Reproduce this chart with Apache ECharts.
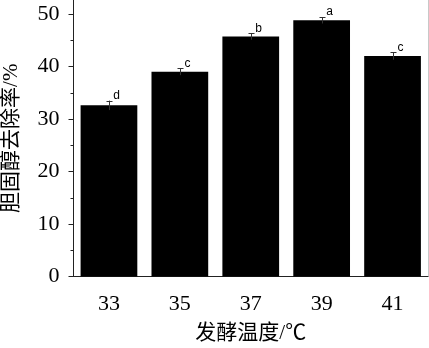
<!DOCTYPE html>
<html>
<head>
<meta charset="utf-8">
<script src="https://cdn.jsdelivr.net/npm/echarts@6/dist/echarts.min.js"></script>
<style>html,body{margin:0;padding:0;background:#fff;}#c{width:429px;height:348px;}</style>
</head>
<body>
<div id="c"></div>
<script>
const categories = ['33', '35', '37', '39', '41'];
const values = [32.6, 39.0, 45.7, 48.8, 42.0];
const errors = [0.9, 0.65, 0.6, 0.6, 0.7];
const letters = ['d', 'c', 'b', 'a', 'c'];
const yTicks = [0, 10, 20, 30, 40, 50];
const yMinorTicks = [5, 15, 25, 35, 45];
const yMax = 52.67;

const chart = echarts.init(document.getElementById('c'), null, {renderer: 'canvas'});
const serif = 'Liberation Serif';
const cjk = 'Liberation Serif, Noto Sans CJK SC';
const axisColor = '#222';

const errData = values.map((v, i) => [i, v, errors[i], letters[i]]);

chart.setOption({
  animation: false,
  backgroundColor: '#fff',
  grid: {left: 73.5, right: 1, top: 0, bottom: 71.5, containLabel: false, outerBoundsMode: 'none'},
  xAxis: [{
    type: 'category', data: categories, boundaryGap: true,
    axisLine: {lineStyle: {color: axisColor, width: 1}},
    axisTick: {alignWithLabel: true, length: 6, inside: false, lineStyle: {color: axisColor}},
    axisLabel: {fontFamily: serif, fontSize: 22, color: '#000', margin: 17},
    name: '发酵温度/℃', nameLocation: 'middle', nameGap: 46,
    nameTextStyle: {fontFamily: cjk, fontSize: 21, color: '#000'}
  }, {
    type: 'category', data: categories, boundaryGap: true, position: 'bottom',
    axisLine: {show: false},
    axisTick: {length: 3, lineStyle: {color: axisColor}},
    axisLabel: {show: false}
  }],
  yAxis: [{
    type: 'value', min: 0, max: yMax, interval: 10,
    axisLine: {show: true, lineStyle: {color: axisColor, width: 1}},
    axisTick: {show: true, length: 5, customValues: yTicks, lineStyle: {color: axisColor}},
    axisLabel: {customValues: yTicks, fontFamily: serif, fontSize: 22, color: '#000', margin: 14},
    splitLine: {show: false},
    name: '胆固醇去除率/%', nameLocation: 'middle', nameRotate: 90, nameGap: 52,
    nameTextStyle: {fontFamily: cjk, fontSize: 21, color: '#000'}
  }, {
    type: 'value', min: 0, max: yMax, interval: 10, position: 'left',
    axisLine: {show: false},
    axisTick: {show: true, length: 3, customValues: yMinorTicks, lineStyle: {color: axisColor}},
    axisLabel: {show: false},
    splitLine: {show: false}
  }, {
    type: 'value', min: 0, max: yMax, position: 'right',
    axisLine: {show: true, lineStyle: {color: '#c8c8c8'}},
    axisTick: {show: false}, axisLabel: {show: false}, splitLine: {show: false}
  }],
  series: [{
    type: 'bar', data: values, barWidth: '80%',
    itemStyle: {color: '#000'}
  }, {
    type: 'custom', data: errData,
    renderItem: function (params, api) {
      const i = api.value(0), v = api.value(1), e = api.value(2);
      const top = api.coord([i, v + e]);
      const bot = api.coord([i, v - e]);
      const x = Math.round(top[0]) + 0.5;
      const cap = 3;
      const c = '#333';
      return {
        type: 'group',
        children: [
          {type: 'line', shape: {x1: x, y1: top[1], x2: x, y2: bot[1]}, style: {stroke: c, lineWidth: 1}},
          {type: 'line', shape: {x1: x - cap, y1: Math.round(top[1]) + 0.5, x2: x + cap, y2: Math.round(top[1]) + 0.5}, style: {stroke: c, lineWidth: 1}},
          {type: 'text', x: x + 7, y: top[1] + 1, style: {text: letters[i], fill: '#000', font: '12px Liberation Sans, Arial, sans-serif', textAlign: 'center', textVerticalAlign: 'bottom'}}
        ]
      };
    },
    z: 5
  }]
});
</script>
</body>
</html>
